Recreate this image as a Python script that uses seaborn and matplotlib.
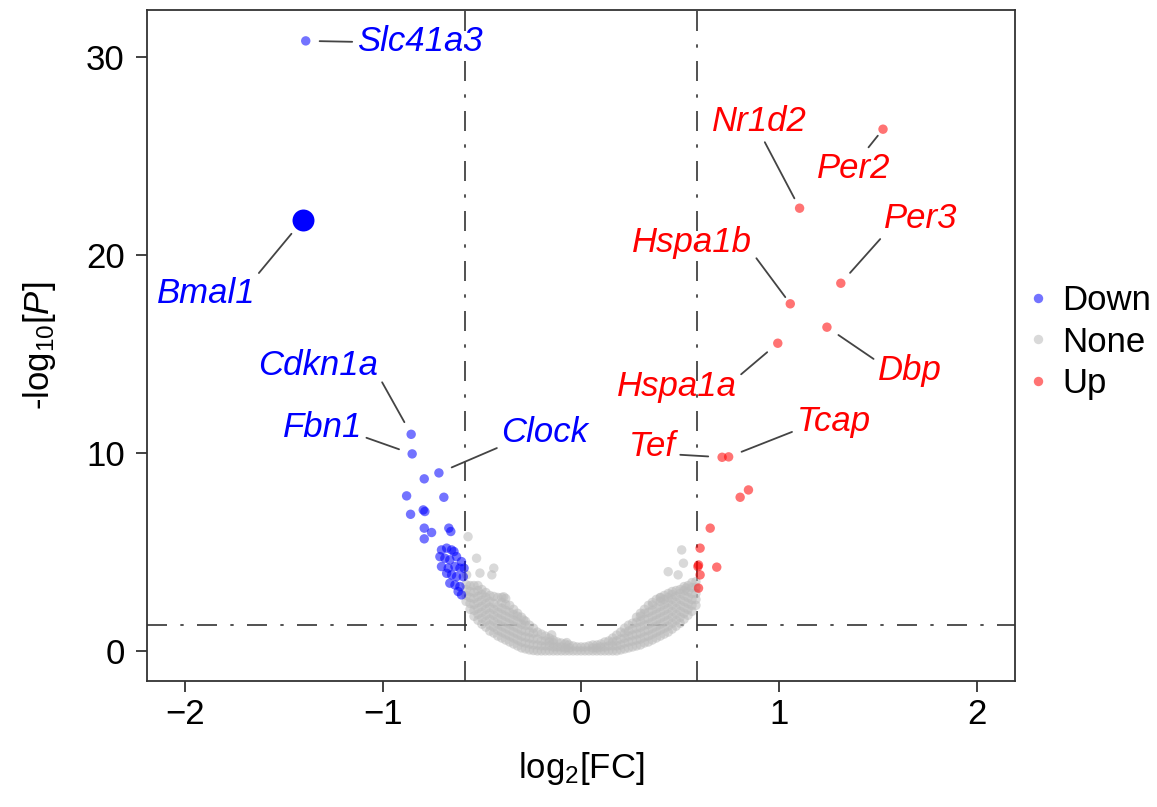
import matplotlib
matplotlib.use("Agg")
import matplotlib.pyplot as plt
import pandas as pd
import seaborn as sns

# ---- data ----
# genes called down (blue); labelled ones first
down_genes = ["Slc41a3", "Cdkn1a", "Fbn1", "Clock"]
down_gene_x = [-1.389, -0.857, -0.852, -0.717]
down_gene_y = [30.81, 10.94, 9.95, 8.99]

# the highlighted gene (drawn bigger, solid)
bmal1_x = [-1.403]
bmal1_y = [21.77]

down_x = [-0.791, -0.880, -0.692, -0.860, -0.796, -0.788, -0.791, -0.754,
          -0.667, -0.657, -0.791,
          -0.704, -0.678, -0.653, -0.641, -0.712, -0.687, -0.662, -0.628,
          -0.603, -0.704, -0.670, -0.636, -0.611, -0.590, -0.678, -0.653,
          -0.628, -0.594, -0.662, -0.636, -0.611, -0.620, -0.603]
down_y = [8.69, 7.83, 7.76, 6.90, 7.12, 7.04, 6.20, 5.98,
          6.20, 6.03, 5.66,
          5.10, 5.19, 5.10, 5.02, 4.76, 4.68, 4.60, 4.76,
          4.51, 4.26, 4.18, 4.26, 4.18, 4.18, 3.92, 3.84,
          3.75, 3.75, 3.42, 3.33, 3.25, 3.00, 2.83]

# genes called up (red); labelled ones first
up_genes = ["Per2", "Nr1d2", "Per3", "Hspa1b", "Dbp", "Hspa1a", "Tef", "Tcap"]
up_gene_x = [1.524, 1.103, 1.311, 1.056, 1.241, 0.993, 0.712, 0.745]
up_gene_y = [26.35, 22.36, 18.57, 17.53, 16.35, 15.54, 9.78, 9.80]

up_x = [0.845, 0.803, 0.652, 0.601, 0.593, 0.685, 0.601, 0.593, 0.590]
up_y = [8.13, 7.76, 6.20, 5.19, 4.34, 4.23, 3.84, 3.17, 4.26]

# not significant (grey): x position and the y values seen at that x
none_columns = [
    (-0.58, (2.5, 2.8, 3.1, 3.35)),
    (-0.56, (2.1, 2.4, 2.7, 3.0, 3.3)),
    (-0.54, (1.75, 2.05, 2.35, 2.65, 2.95, 3.3)),
    (-0.52, (1.55, 1.85, 2.15, 2.45, 2.75, 3.05, 3.3)),
    (-0.50, (1.35, 1.65, 1.95, 2.25, 2.55, 2.85, 3.1)),
    (-0.48, (1.2, 1.5, 1.8, 2.1, 2.4, 2.7, 2.95)),
    (-0.46, (1.0, 1.3, 1.6, 1.9, 2.2, 2.5, 2.8)),
    (-0.44, (0.9, 1.2, 1.5, 1.8, 2.1, 2.4, 2.75)),
    (-0.42, (0.75, 1.05, 1.35, 1.65, 1.95, 2.25, 2.7)),
    (-0.40, (0.65, 0.95, 1.25, 1.55, 1.85, 2.15, 2.45, 2.7)),
    (-0.38, (0.55, 0.85, 1.15, 1.45, 1.75, 2.05, 2.35, 2.65)),
    (-0.36, (0.45, 0.75, 1.05, 1.35, 1.65, 1.95, 2.3)),
    (-0.34, (0.35, 0.65, 0.95, 1.25, 1.55, 1.85, 2.1)),
    (-0.32, (0.25, 0.55, 0.85, 1.15, 1.45, 1.75, 1.9)),
    (-0.30, (0.15, 0.45, 0.75, 1.05, 1.35, 1.7)),
    (-0.28, (0.1, 0.4, 0.7, 1.0, 1.3, 1.5)),
    (-0.26, (0.05, 0.35, 0.65, 0.95, 1.3)),
    (-0.24, (0.02, 0.3, 0.6, 0.9, 1.15)),
    (-0.22, (0.0, 0.3, 0.6, 0.95)),
    (-0.20, (0.0, 0.25, 0.5, 0.85)),
    (-0.18, (0.0, 0.25, 0.5, 0.75)),
    (-0.16, (0.0, 0.25, 0.45, 0.65)),
    (-0.14, (0.0, 0.2, 0.4, 0.55)),
    (-0.12, (0.0, 0.2, 0.45)),
    (-0.10, (0.0, 0.2, 0.4)),
    (-0.08, (0.0, 0.15, 0.35)),
    (-0.06, (0.0, 0.15, 0.3)),
    (-0.04, (0.0, 0.25)),
    (-0.02, (0.0, 0.2)),
    (0.00, (0.0, 0.2)),
    (0.02, (0.0, 0.2)),
    (0.04, (0.0, 0.25)),
    (0.06, (0.0, 0.15, 0.3)),
    (0.08, (0.0, 0.15, 0.3)),
    (0.10, (0.0, 0.2, 0.35)),
    (0.12, (0.0, 0.2, 0.45)),
    (0.14, (0.0, 0.25, 0.5)),
    (0.16, (0.0, 0.25, 0.45, 0.65)),
    (0.18, (0.0, 0.25, 0.5, 0.8)),
    (0.20, (0.05, 0.3, 0.6, 0.95)),
    (0.22, (0.1, 0.4, 0.65, 0.9, 1.15)),
    (0.24, (0.15, 0.45, 0.75, 1.0, 1.3)),
    (0.26, (0.2, 0.5, 0.8, 1.1, 1.4)),
    (0.28, (0.25, 0.55, 0.85, 1.15, 1.45, 1.7)),
    (0.30, (0.3, 0.6, 0.9, 1.2, 1.5, 1.75, 1.9)),
    (0.32, (0.4, 0.7, 1.0, 1.3, 1.6, 1.9, 2.1)),
    (0.34, (0.45, 0.75, 1.05, 1.35, 1.65, 1.95, 2.3)),
    (0.36, (0.55, 0.85, 1.15, 1.45, 1.75, 2.05, 2.45)),
    (0.38, (0.65, 0.95, 1.25, 1.55, 1.85, 2.15, 2.6)),
    (0.40, (0.75, 1.05, 1.35, 1.65, 1.95, 2.25, 2.5, 2.7)),
    (0.42, (0.85, 1.15, 1.45, 1.75, 2.05, 2.35, 2.6, 2.8)),
    (0.44, (0.95, 1.25, 1.55, 1.85, 2.15, 2.45, 2.7, 2.9)),
    (0.46, (1.1, 1.4, 1.7, 2.0, 2.3, 2.6, 2.85, 3.0)),
    (0.48, (1.25, 1.55, 1.85, 2.15, 2.45, 2.75, 3.05)),
    (0.50, (1.4, 1.7, 2.0, 2.3, 2.6, 2.9, 3.1)),
    (0.52, (1.6, 1.9, 2.2, 2.5, 2.8, 3.05, 3.25)),
    (0.54, (1.8, 2.1, 2.4, 2.7, 3.0, 3.3)),
    (0.56, (2.0, 2.3, 2.6, 2.9, 3.2, 3.45)),
    (0.58, (2.3, 2.6, 2.9, 3.2, 3.5)),
]
# scattered grey points above the band
none_extra_x = [-0.570, -0.527, -0.510, -0.440, -0.450, -0.577, -0.390,
                -0.290, -0.148, -0.072, 0.508, 0.517, 0.440, 0.490, 0.530,
                0.400, 0.360]
none_extra_y = [5.77, 4.68, 3.93, 4.18, 3.84, 3.84, 2.73,
                1.56, 0.81, 0.42, 5.10, 4.43, 4.00, 3.84, 3.17,
                2.68, 2.32]

FC_CUT = 0.585   # log2(1.5)
P_CUT = 1.301    # -log10(0.05)

# label placement: text centre relative to the point in pixels (x right, y down)
# and the spot on the text box where the connector starts
label_offset = {
    "Slc41a3": (114, 1), "Bmal1": (-97, 74), "Cdkn1a": (-93, -69),
    "Fbn1": (-90, -26), "Clock": (106, -40),
    "Per2": (-29, 39), "Nr1d2": (-40, -87), "Per3": (80, -65),
    "Hspa1b": (-98, -61), "Dbp": (83, 43), "Hspa1a": (-101, 43),
    "Tef": (-70, -11), "Tcap": (105, -35),
}
label_relpos = {
    "Slc41a3": (0.0, 0.5), "Bmal1": (1.0, 1.0), "Cdkn1a": (1.0, 0.2),
    "Fbn1": (1.0, 0.25), "Clock": (0.0, 0.1),
    "Per2": (0.65, 1.0), "Nr1d2": (0.53, 0.0), "Per3": (0.0, 0.0),
    "Hspa1b": (1.0, 0.2), "Dbp": (0.0, 0.75), "Hspa1a": (1.0, 0.75),
    "Tef": (1.0, 0.25), "Tcap": (0.0, 0.25),
}
label_shrink = {"Bmal1": 13, "Per2": 6, "Hspa1b": 6, "Nr1d2": 8}

DOWN_C = "#0000ff"
UP_C = "#ff0000"
NONE_C = "#bababa"

# ---- build the table ----
nx, ny = [], []
for x, ys in none_columns:
    for y in ys:
        nx.append(x)
        ny.append(y)
nx += none_extra_x
ny += none_extra_y

df = pd.concat([
    pd.DataFrame({"log2FC": nx, "logP": ny, "group": "None"}),
    pd.DataFrame({"log2FC": down_x + down_gene_x, "logP": down_y + down_gene_y,
                  "group": "Down"}),
    pd.DataFrame({"log2FC": up_x + up_gene_x, "logP": up_y + up_gene_y,
                  "group": "Up"}),
], ignore_index=True)

# ---- plot ----
sns.set_theme(style="ticks")
plt.rcParams["font.family"] = ["Liberation Sans", "DejaVu Sans"]
plt.rcParams["text.color"] = "black"
plt.rcParams["axes.labelcolor"] = "black"
plt.rcParams["mathtext.fontset"] = "custom"
plt.rcParams["mathtext.rm"] = "Liberation Sans"
plt.rcParams["mathtext.it"] = "Liberation Sans:italic"

fig, ax = plt.subplots(figsize=(11.57, 8.07), dpi=100)
fig.subplots_adjust(left=147 / 1157, right=1015 / 1157,
                    bottom=1 - 681 / 807, top=1 - 10 / 807)

sns.scatterplot(
    data=df, x="log2FC", y="logP", hue="group",
    hue_order=["Down", "None", "Up"],
    palette={"Down": DOWN_C, "None": NONE_C, "Up": UP_C},
    s=46, alpha=0.55, linewidth=0, ax=ax, zorder=3,
)
sns.scatterplot(x=bmal1_x, y=bmal1_y, color=DOWN_C, s=250, linewidth=0,
                ax=ax, zorder=4, legend=False)

ref_style = dict(color="#333333", lw=1.2, dashes=(12, 8, 2, 8), zorder=2)
ax.axvline(-FC_CUT, **ref_style)
ax.axvline(FC_CUT, **ref_style)
ax.axhline(P_CUT, **ref_style)

px2pt = 0.72
labels = (list(zip(down_genes, down_gene_x, down_gene_y, [DOWN_C] * 4))
          + [("Bmal1", bmal1_x[0], bmal1_y[0], DOWN_C)]
          + list(zip(up_genes, up_gene_x, up_gene_y, [UP_C] * len(up_genes))))
for name, x, y, col in labels:
    dx, dy = label_offset[name]
    ax.annotate(
        name, xy=(x, y), xytext=(dx * px2pt, -dy * px2pt),
        textcoords="offset points", ha="center", va="center",
        fontsize=25, style="italic", color=col, zorder=5,
        arrowprops=dict(arrowstyle="-", color="#444444", lw=1.3,
                        relpos=label_relpos[name],
                        shrinkA=1, shrinkB=label_shrink.get(name, 10)),
    )

ax.set_xlim(-2.19, 2.19)
ax.set_ylim(-1.52, 32.37)
ax.set_xticks([-2, -1, 0, 1, 2])
ax.set_yticks([0, 10, 20, 30])
ax.set_xlabel("log$_{2}$[FC]", fontsize=25, labelpad=14)
ax.set_ylabel("-log$_{10}$[$\\mathit{P}$]", fontsize=25, labelpad=20)
ax.tick_params(axis="both", direction="out", length=8, width=1.3,
               color="#333333", labelsize=25, labelcolor="black")
ax.tick_params(axis="x", pad=4)
ax.tick_params(axis="y", pad=8)
for sp in ax.spines.values():
    sp.set_visible(True)
    sp.set_color("#333333")
    sp.set_linewidth(1.3)

sns.move_legend(
    ax, "center left", bbox_to_anchor=(1.0, 0.505), frameon=False,
    title=None, fontsize=25, handlelength=0.6, handletextpad=0.42,
    labelspacing=0.25, borderpad=0.2, borderaxespad=0.15, markerscale=1.0,
)
for t in ax.get_legend().get_texts():
    t.set_color("black")

fig.savefig("out.png", dpi=100)
